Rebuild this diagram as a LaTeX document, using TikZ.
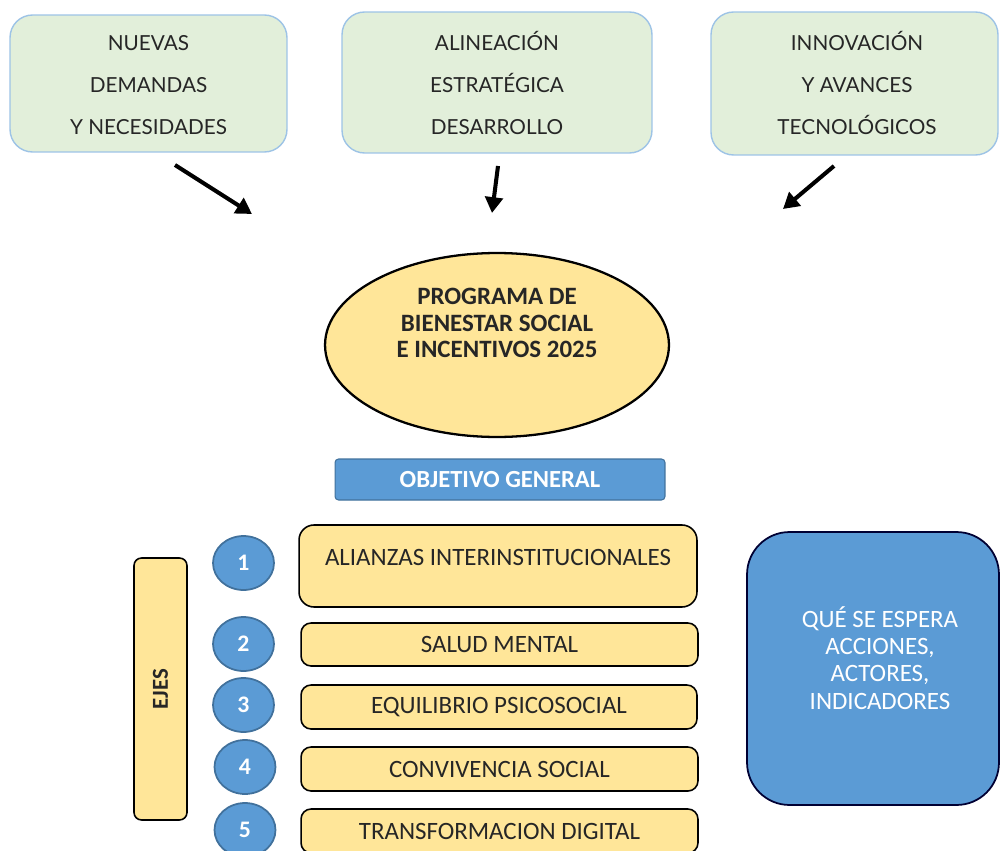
\documentclass[tikz,border=0pt]{standalone}
\usepackage{fontspec}
\setmainfont{Carlito}
\newfontfamily\topfont{Lato}
\usetikzlibrary{arrows.meta,shapes.geometric}
\definecolor{gfill}{HTML}{E2EFDA}
\definecolor{gline}{HTML}{9DC3E6}
\definecolor{yfill}{HTML}{FFE699}
\definecolor{bfill}{HTML}{5B9BD5}
\definecolor{bline}{HTML}{41719C}
\definecolor{txt}{HTML}{262626}
\tikzset{
  topbox/.style={draw=gline, line width=0.8pt, fill=gfill, rounded corners=0.45cm, inner sep=0pt},
  toptext/.style={font=\topfont\fontsize{11.8}{24}\selectfont, text=txt, align=center},
  ybox/.style={draw=black, line width=0.9pt, fill=yfill, rounded corners=0.2cm, inner sep=0pt, font=\fontsize{14.2}{16}\selectfont, text=txt},
  numc/.style={ellipse, draw=bline, line width=1pt, fill=bfill, minimum width=1.22cm, minimum height=1.08cm, inner sep=0pt, text=white, font=\bfseries\fontsize{13.5}{14}\selectfont},
  bigarrow/.style={line width=2.3pt, -{Triangle[length=9pt,width=10pt]}}
}
\begin{document}
\begin{tikzpicture}[x=0.02cm,y=-0.02cm]
\useasboundingbox (0,0) rectangle (1000,851);
% top boxes
\node[topbox, minimum width=5.54cm, minimum height=2.74cm] (t1) at (148.5,83.5) {};
\node[toptext] (t1t) at (148.5,85) {NUEVAS\\DEMANDAS\\Y NECESIDADES};
\node[topbox, minimum width=6.2cm, minimum height=2.82cm] (t2) at (497,82.5) {};
\node[toptext] (t2t) at (497,83) {ALINEACIÓN\\ESTRATÉGICA\\DESARROLLO};
\node[topbox, minimum width=5.74cm, minimum height=2.86cm] (t3) at (854.5,83.5) {};
\node[toptext] (t3t) at (857,83) {INNOVACIÓN\\Y AVANCES\\TECNOLÓGICOS};
% arrows
\coordinate (a1s) at (175,165); \coordinate (a1e) at (252,214);
\coordinate (a2s) at (498,166); \coordinate (a2e) at (492,213);
\coordinate (a3s) at (834,166); \coordinate (a3e) at (783,209);
\draw[bigarrow] (a1s) -- (a1e);
\draw[bigarrow] (a2s) -- (a2e);
\draw[bigarrow] (a3s) -- (a3e);
% ellipse
\node[ellipse, draw=black, line width=1.3pt, fill=yfill, minimum width=6.88cm, minimum height=3.68cm] (prog) at (497,345) {};
\node[align=center, text=txt, font=\bfseries\fontsize{14.2}{15}\selectfont] (progt) at (497,323) {PROGRAMA DE\\BIENESTAR SOCIAL\\E INCENTIVOS 2025};
% objective
\node[draw=bline, line width=0.6pt, fill=bfill, rounded corners=2pt, minimum width=6.6cm, minimum height=0.82cm, text=white, font=\bfseries\fontsize{14}{15}\selectfont] (obj) at (500,479.5) {OBJETIVO GENERAL};
% EJES
\node[ybox, minimum width=1.06cm, minimum height=5.24cm, rounded corners=0.15cm] (ejes) at (160.5,689) {};
\node[rotate=90, text=txt, font=\bfseries\fontsize{13}{14}\selectfont] (ejest) at (160.5,689) {EJES};
% circles
\node[numc] (c1) at (243.5,563) {1};
\node[numc] (c2) at (243.5,644) {2};
\node[numc] (c3) at (243.5,705) {3};
\node[numc] (c4) at (245,767) {4};
\node[numc] (c5) at (245,830) {5};
% axis boxes
\node[ybox, minimum width=7.96cm, minimum height=1.64cm, rounded corners=0.3cm] (b1) at (498,566) {};
\node[text=txt, font=\fontsize{14.2}{16}\selectfont] (b1t) at (498,557) {ALIANZAS INTERINSTITUCIONALES};
\node[ybox, minimum width=7.94cm, minimum height=0.86cm] (b2) at (499.5,644.5) {SALUD MENTAL};
\node[ybox, minimum width=7.92cm, minimum height=0.88cm] (b3) at (499,707) {EQUILIBRIO PSICOSOCIAL};
\node[ybox, minimum width=7.94cm, minimum height=0.88cm] (b4) at (499.5,769) {CONVIVENCIA SOCIAL};
\node[ybox, minimum width=7.94cm, minimum height=0.88cm] (b5) at (499.5,831) {TRANSFORMACION DIGITAL};
% right box
\node[draw=black!80!blue, line width=1pt, fill=bfill, rounded corners=0.85cm, minimum width=5.04cm, minimum height=5.46cm] (qse) at (873,668.5) {};
\node[text=white, align=center, font=\fontsize{14.2}{15.5}\selectfont] (qset) at (880,658) {QUÉ SE ESPERA\\ACCIONES,\\ACTORES,\\INDICADORES};
\end{tikzpicture}
\end{document}
